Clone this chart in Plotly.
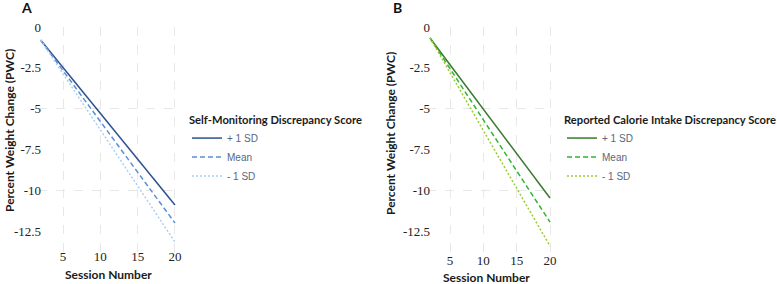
import plotly.graph_objects as go

W, H = 777, 284

# ---- data ----
sessions = [2, 20]
series_names = ["+ 1 SD", "Mean", "- 1 SD"]
pwc_a = {"+ 1 SD": [-0.8, -10.88], "Mean": [-0.8, -11.98], "- 1 SD": [-0.8, -13.14]}
pwc_b = {"+ 1 SD": [-0.67, -10.45], "Mean": [-0.67, -11.92], "- 1 SD": [-0.67, -13.39]}
x_ticks = [5, 10, 15, 20]
x_tick_text = ["5", "10", "15", "20"]
y_ticks = [0, -2.5, -5, -7.5, -10, -12.5]
y_tick_text = ["0", "-2.5", "-5", "-7.5", "-10", "-12.5"]
grid_y = [-5, -10]
legend_title_a = "Self-Monitoring Discrepancy Score"
legend_title_b = "Reported Calorie Intake Discrepancy Score"

colors_a = {"+ 1 SD": "#2c5290", "Mean": "#5b8fd6", "- 1 SD": "#a9d0f3"}
colors_b = {"+ 1 SD": "#3a7a2e", "Mean": "#2fb52f", "- 1 SD": "#9acb3a"}
dashes = {"+ 1 SD": "solid", "Mean": "5px,3px", "- 1 SD": "2px,2px"}

def px_x(p):
    return p / W

def px_y(p):
    return (H - p) / H

fig = go.Figure()

for name in series_names:
    fig.add_trace(go.Scatter(x=sessions, y=pwc_a[name], mode="lines", name=name,
                             line=dict(color=colors_a[name], dash=dashes[name], width=1.5),
                             xaxis="x", yaxis="y", legend="legend"))
for name in series_names:
    fig.add_trace(go.Scatter(x=sessions, y=pwc_b[name], mode="lines", name=name,
                             line=dict(color=colors_b[name], dash=dashes[name], width=1.5),
                             xaxis="x2", yaxis="y2", legend="legend2"))
# carriers for the grid-only overlay axes
fig.add_trace(go.Scatter(x=[None], y=[None], xaxis="x", yaxis="y3", showlegend=False, hoverinfo="skip"))
fig.add_trace(go.Scatter(x=[None], y=[None], xaxis="x2", yaxis="y4", showlegend=False, hoverinfo="skip"))

tick_font = dict(family="Liberation Serif", size=13, color="#222222")
grid_col = "#e8e8e8"
y_range = [-13.75, 0]
y_dom = [px_y(252), px_y(27)]

xcommon = dict(tickmode="array", tickvals=x_ticks, ticktext=x_tick_text, showgrid=True,
               gridcolor=grid_col, griddash="dash", gridwidth=1, zeroline=False, showline=False,
               ticks="", tickfont=tick_font, fixedrange=True, automargin=False)
ycommon = dict(tickmode="array", tickvals=y_ticks, ticktext=y_tick_text, showgrid=False,
               zeroline=False, showline=False, ticks="", tickfont=tick_font, range=y_range,
               domain=y_dom, fixedrange=True, automargin=False, ticklabelstandoff=-4)
ygrid = dict(tickmode="array", tickvals=grid_y, showticklabels=False, showgrid=True,
             gridcolor=grid_col, griddash="dash", gridwidth=1, zeroline=False, showline=False,
             ticks="", range=y_range, fixedrange=True, automargin=False)

leg_title_font = dict(family="Lato", size=11.2, color="#1a1a1a", weight="bold")
leg_item_font = dict(family="Liberation Sans", size=10, color="#5a6680")

fig.update_layout(
    width=W, height=H,
    margin=dict(l=0, r=0, t=0, b=0, autoexpand=False),
    paper_bgcolor="white", plot_bgcolor="white",
    xaxis=dict(xcommon, domain=[px_x(38), px_x(182)], range=[1.65, 20.94], anchor="y",
               ticklabelstandoff=-5),
    yaxis=dict(ycommon, anchor="x"),
    xaxis2=dict(xcommon, domain=[px_x(427), px_x(553)], range=[1.55, 20.45], anchor="y2",
                ticklabelstandoff=-1),
    yaxis2=dict(ycommon, anchor="x2"),
    yaxis3=dict(ygrid, overlaying="y", anchor="x"),
    yaxis4=dict(ygrid, overlaying="y2", anchor="x2"),
    legend=dict(x=px_x(187), y=px_y(109), xanchor="left", yanchor="top",
                title=dict(text=legend_title_a, font=leg_title_font),
                font=leg_item_font, bgcolor="rgba(0,0,0,0)", tracegroupgap=0),
    legend2=dict(x=px_x(562), y=px_y(109), xanchor="left", yanchor="top",
                 title=dict(text=legend_title_b, font=leg_title_font),
                 font=leg_item_font, bgcolor="rgba(0,0,0,0)", tracegroupgap=0),
    showlegend=True,
)

title_font = dict(family="Lato", size=12, color="#1a1a1a", weight="bold")
ann = [
    dict(text="A", x=px_x(26), y=px_y(8), font=dict(family="Lato", size=14, color="#111", weight="bold")),
    dict(text="B", x=px_x(397), y=px_y(8), font=dict(family="Lato", size=14, color="#111", weight="bold")),
    dict(text="Percent Weight Change (PWC)", x=px_x(9), y=px_y(131), textangle=-90, font=title_font),
    dict(text="Percent Weight Change (PWC)", x=px_x(390), y=px_y(134), textangle=-90, font=title_font),
    dict(text="Session Number", x=px_x(108), y=px_y(274), font=title_font),
    dict(text="Session Number", x=px_x(486), y=px_y(277), font=title_font),
]
for a in ann:
    fig.add_annotation(xref="paper", yref="paper", showarrow=False, xanchor="center", yanchor="middle", **a)

fig.write_html("out.html",
               config={"displayModeBar": False},
               post_script="document.body.style.margin='0';document.body.style.padding='0';document.body.style.overflow='hidden';")
